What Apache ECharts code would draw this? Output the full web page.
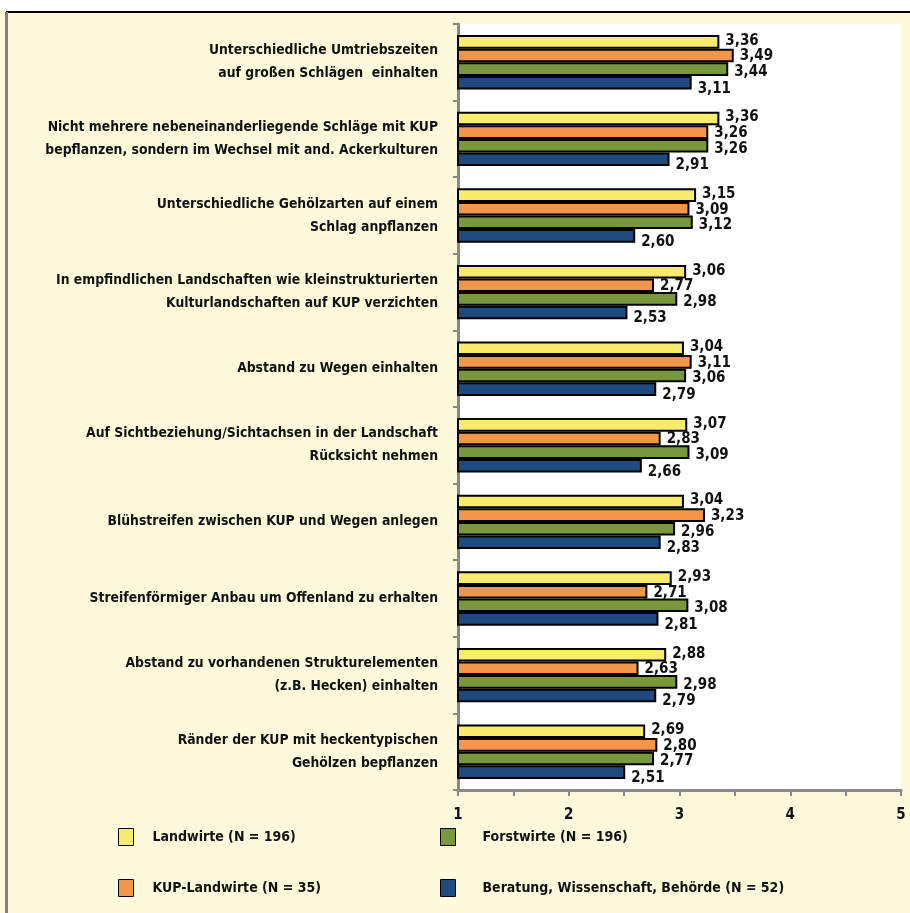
<!DOCTYPE html>
<html>
<head>
<meta charset="utf-8">
<script src="https://cdn.jsdelivr.net/npm/echarts@6/dist/echarts.min.js"></script>
<style>
  html, body { margin: 0; padding: 0; background: #fff; }
  #chart { width: 910px; height: 913px; }
</style>
</head>
<body>
<div id="chart"></div>
<script>
// Kategorien (von oben nach unten)
const categories = [
  'Unterschiedliche Umtriebszeiten\nauf großen Schlägen  einhalten',
  'Nicht mehrere nebeneinanderliegende Schläge mit KUP\nbepflanzen, sondern im Wechsel mit and. Ackerkulturen',
  'Unterschiedliche Gehölzarten auf einem\nSchlag anpflanzen',
  'In empfindlichen Landschaften wie kleinstrukturierten\nKulturlandschaften auf KUP verzichten',
  'Abstand zu Wegen einhalten',
  'Auf Sichtbeziehung/Sichtachsen in der Landschaft\nRücksicht nehmen',
  'Blühstreifen zwischen KUP und Wegen anlegen',
  'Streifenförmiger Anbau um Offenland zu erhalten',
  'Abstand zu vorhandenen Strukturelementen\n(z.B. Hecken) einhalten',
  'Ränder der KUP mit heckentypischen\nGehölzen bepflanzen'
];

// Mittelwerte je Gruppe
const landwirte    = [3.36, 3.36, 3.15, 3.06, 3.04, 3.07, 3.04, 2.93, 2.88, 2.69];
const kupLandwirte = [3.49, 3.26, 3.09, 2.77, 3.11, 2.83, 3.23, 2.71, 2.63, 2.80];
const forstwirte   = [3.44, 3.26, 3.12, 2.98, 3.06, 3.09, 2.96, 3.08, 2.98, 2.77];
const beratung     = [3.11, 2.91, 2.60, 2.53, 2.79, 2.66, 2.83, 2.81, 2.79, 2.51];

const seriesNames = [
  'Landwirte (N = 196)',
  'KUP-Landwirte (N = 35)',
  'Forstwirte (N = 196)',
  'Beratung, Wissenschaft, Behörde (N = 52)'
];
const seriesColors = ['#f7ec6c', '#f2964a', '#7a983b', '#1f4a7e'];
const seriesData = [landwirte, kupLandwirte, forstwirte, beratung];
// Wertebeschriftungen leicht gespreizt wie im Original
const labelOffsets = [[0, -1], [0, 1], [0, 3], [0, 6]];

const fontFamily = '"DejaVu Sans Condensed", "DejaVu Sans", sans-serif';

const chart = echarts.init(document.getElementById('chart'));

const legendText = { fontFamily: fontFamily, fontWeight: 'bold', fontSize: 14, color: '#111' };

const option = {
  backgroundColor: '#fff9db',
  animation: false,
  textStyle: { fontFamily: fontFamily },
  graphic: [
    { type: 'rect', shape: { x: 0, y: 0, width: 910, height: 11 }, style: { fill: '#ffffff' } },
    { type: 'line', shape: { x1: 6, y1: 12, x2: 910, y2: 12 }, style: { stroke: '#000', lineWidth: 2 } },
    { type: 'line', shape: { x1: 6.5, y1: 12, x2: 6.5, y2: 913 }, style: { stroke: '#808080', lineWidth: 3 } }
  ],
  grid: {
    left: 458,
    right: 9,
    top: 24,
    bottom: 123,
    show: true,
    backgroundColor: '#ffffff',
    borderWidth: 0
  },
  legend: [
    {
      data: seriesNames.slice(0, 2),
      orient: 'vertical',
      left: 113,
      top: 823,
      icon: 'rect',
      itemWidth: 15,
      itemHeight: 17,
      itemGap: 33,
      itemStyle: { borderColor: '#000', borderWidth: 1 },
      textStyle: Object.assign({ padding: [0, 0, 0, 14] }, legendText)
    },
    {
      data: seriesNames.slice(2),
      orient: 'vertical',
      left: 435,
      top: 823,
      icon: 'rect',
      itemWidth: 15,
      itemHeight: 17,
      itemGap: 33,
      itemStyle: { borderColor: '#000', borderWidth: 1 },
      textStyle: Object.assign({ padding: [0, 0, 0, 22] }, legendText)
    }
  ],
  xAxis: {
    type: 'value',
    min: 1,
    max: 5,
    interval: 0.5,
    axisLine: { show: true, lineStyle: { color: '#888', width: 3 } },
    axisTick: { show: true, length: 6, lineStyle: { color: '#888', width: 2 } },
    splitLine: { show: false },
    axisLabel: {
      margin: 18,
      fontSize: 15,
      fontWeight: 'bold',
      color: '#111',
      formatter: function (v) { return Number.isInteger(v) ? String(v) : ''; }
    }
  },
  yAxis: {
    type: 'category',
    inverse: true,
    data: categories,
    axisLine: { show: true, lineStyle: { color: '#888', width: 3 } },
    axisTick: { show: true, length: 5, lineStyle: { color: '#888', width: 2 } },
    axisLabel: {
      margin: 20,
      fontSize: 13.8,
      fontWeight: 'bold',
      color: '#111',
      lineHeight: 23,
      align: 'right'
    }
  },
  series: seriesData.map(function (data, i) {
    return {
      name: seriesNames[i],
      type: 'bar',
      data: data,
      barGap: '0%',
      barCategoryGap: '29%',
      itemStyle: { color: seriesColors[i], borderColor: '#000', borderWidth: 2 },
      label: {
        show: true,
        position: 'right',
        distance: 6,
        offset: labelOffsets[i],
        fontSize: 15,
        fontWeight: 'bold',
        color: '#111',
        fontFamily: fontFamily,
        formatter: function (p) { return p.value.toFixed(2).replace('.', ','); }
      }
    };
  })
};

chart.setOption(option);
</script>
</body>
</html>
